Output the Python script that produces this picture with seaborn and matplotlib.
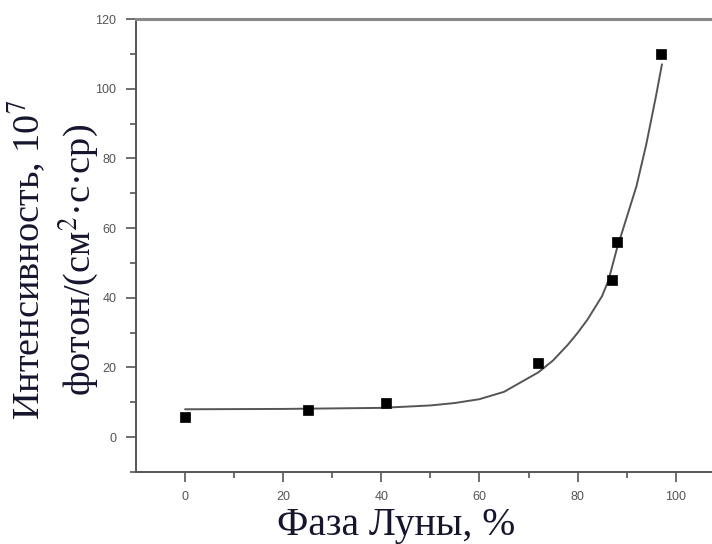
import matplotlib
matplotlib.use("Agg")
import matplotlib.pyplot as plt
import seaborn as sns
import pandas as pd

# measured points
phase = [0, 25, 41, 72, 87, 88, 97]
intensity = [5.7, 7.9, 9.9, 21.3, 45.2, 56.1, 110]

# fitted curve
fit_x = [0, 20, 40, 50, 55, 60, 65, 70, 72, 75, 78, 80, 82, 85, 86.3, 88, 90, 92, 94, 96, 97.2]
fit_y = [8.0, 8.1, 8.4, 9.1, 9.8, 10.9, 13, 17, 18.6, 22, 26.5, 29.9, 33.7, 40.5, 45, 54, 63, 72, 84, 98, 107]

xticks = [0, 20, 40, 60, 80, 100]
yticks = [0, 20, 40, 60, 80, 100, 120]

sns.set_style("ticks")
plt.rcParams["font.family"] = ["Liberation Sans", "DejaVu Sans"]
plt.rcParams["mathtext.fontset"] = "stix"

fig = plt.figure(figsize=(7.12, 5.44), dpi=100)
ax = fig.add_axes([136 / 712, 1 - 472 / 544, 1 - 136 / 712, (472 - 19) / 544])

pts = pd.DataFrame({"x": phase, "y": intensity})
fit = pd.DataFrame({"x": fit_x, "y": fit_y})

sns.lineplot(data=fit, x="x", y="y", ax=ax, color="#555555", lw=1.4, sort=False)
sns.scatterplot(data=pts, x="x", y="y", ax=ax, marker="s", s=55, color="black",
                edgecolor="black", linewidth=0.5, zorder=5)

ax.set_xlim(-10, 107.4)
ax.set_ylim(-10, 120)
ax.set_xticks(xticks)
ax.set_yticks(yticks)
ax.set_xticks(range(10, 110, 20), minor=True)
ax.set_yticks(range(-10, 120, 20), minor=True)
ax.set_xlabel("")
ax.set_ylabel("")

for s in ["left", "bottom"]:
    ax.spines[s].set_color("#555555")
    ax.spines[s].set_linewidth(1.4)
ax.spines["top"].set_color("#888888")
ax.spines["top"].set_linewidth(2.2)
ax.spines["right"].set_visible(False)

ax.tick_params(axis="both", which="major", direction="out", length=7, width=1.2,
               color="#555555", labelsize=9, labelcolor="#555555", pad=7)
ax.tick_params(axis="both", which="minor", direction="out", length=4, width=1.2,
               color="#555555")

serif = ["Liberation Serif", "DejaVu Serif"]
fig.text(53 / 712, 1 - 260 / 544,
         "Интенсивность, 10$^7$\nфотон/(см$^2$·с·ср)",
         rotation=90, ha="center", va="center", multialignment="center",
         fontsize=27.5, family=serif, color="#15152e", linespacing=1.2)
fig.text(396 / 712, 1 - 525 / 544, "Фаза Луны, %", ha="center", va="center",
         fontsize=28.5, family=serif, color="#15152e")

fig.savefig("out.png", dpi=100)
